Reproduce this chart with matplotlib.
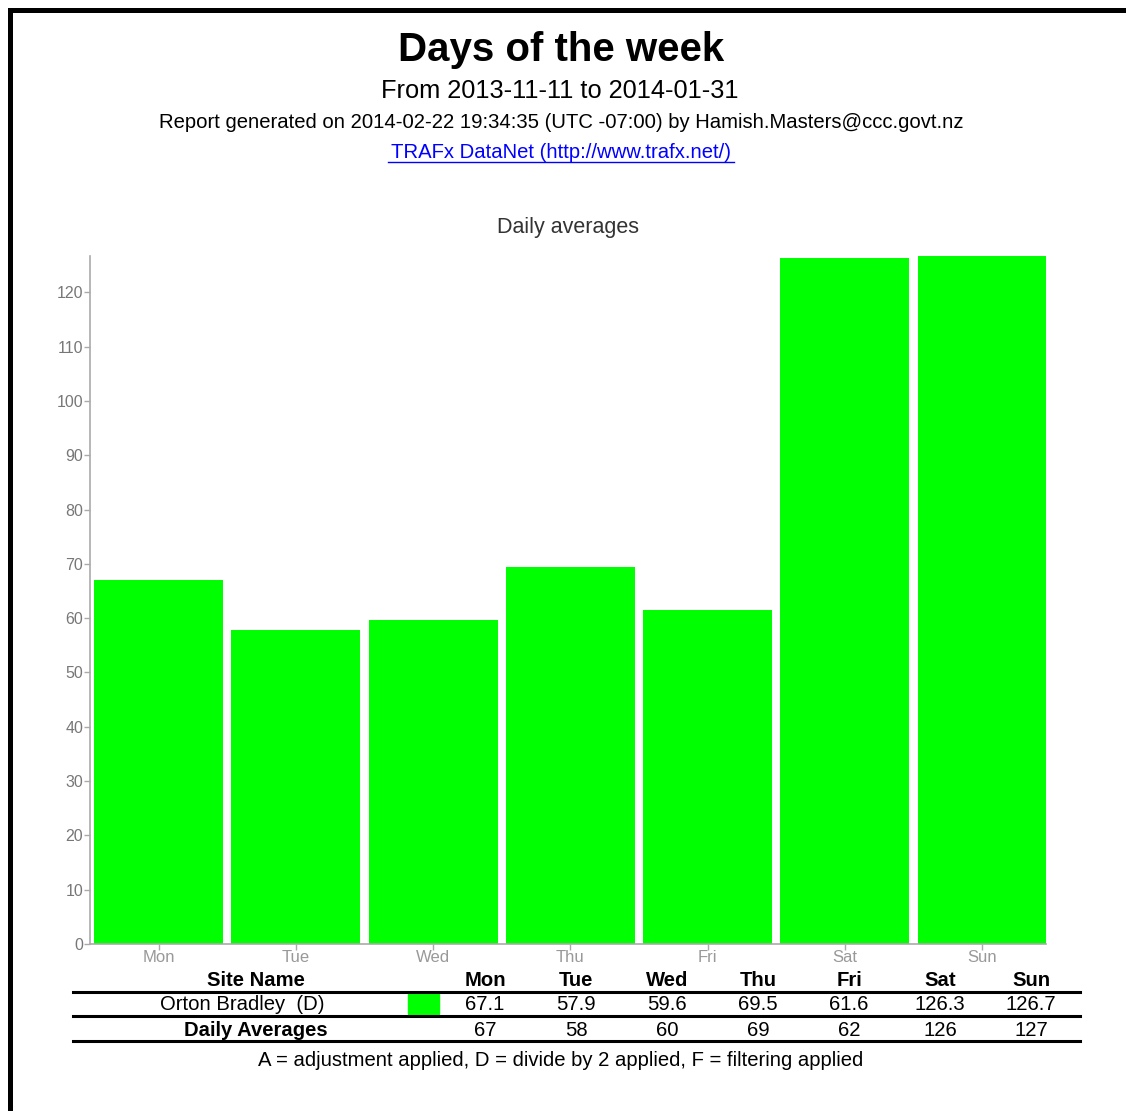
import matplotlib
matplotlib.use("Agg")
import matplotlib.pyplot as plt
from matplotlib.lines import Line2D
from matplotlib.patches import Rectangle

days = ["Mon", "Tue", "Wed", "Thu", "Fri", "Sat", "Sun"]
site_values = [67.1, 57.9, 59.6, 69.5, 61.6, 126.3, 126.7]
daily_avg_labels = ["67", "58", "60", "69", "62", "126", "127"]
site_name = "Orton Bradley  (D)"
yticks = [0, 10, 20, 30, 40, 50, 60, 70, 80, 90, 100, 110, 120]

W, H = 1126, 1111
plt.rcParams['font.family'] = ['Liberation Sans', 'DejaVu Sans']
fig = plt.figure(figsize=(W / 100, H / 100), dpi=100)

def fx(px):
    return px / W

def fy(py):
    return 1 - py / H

# border
fig.add_artist(Line2D([fx(9.5), fx(W)], [fy(9.5), fy(9.5)], color='black', lw=3.6))
fig.add_artist(Line2D([fx(9.5), fx(9.5)], [fy(9.5), fy(H)], color='black', lw=3.6))

# titles
fig.text(fx(561), fy(50), "Days of the week", ha='center', va='center', fontsize=29, fontweight='bold')
fig.text(fx(560), fy(91), "From 2013-11-11 to 2014-01-31", ha='center', va='center', fontsize=18.3)
fig.text(fx(561), fy(122), "Report generated on 2014-02-22 19:34:35 (UTC -07:00) by Hamish.Masters@ccc.govt.nz",
         ha='center', va='center', fontsize=14.6)
fig.text(fx(561), fy(153), "TRAFx DataNet (http://www.trafx.net/)", ha='center', va='center',
         fontsize=14.6, color='#0000ff')
fig.add_artist(Line2D([fx(388), fx(734)], [fy(162), fy(162)], color='#0000ff', lw=1))
fig.text(fx(568), fy(228), "Daily averages", ha='center', va='center', fontsize=15.5, color='#333333')

# axes
ax_left, ax_right, ax_top, ax_bottom = 90, 1046, 256, 944
ax = fig.add_axes([fx(ax_left), fy(ax_bottom), (ax_right - ax_left) / W, (ax_bottom - ax_top) / H])
x = list(range(len(days)))
ax.bar(x, site_values, width=0.94, color='#00ff00', edgecolor='none')
ax.set_xlim(-0.5, len(days) - 0.535)
ax.set_ylim(0, 126.7)
ax.set_yticks(yticks)
ax.set_xticks(x)
ax.set_xticklabels(days)
for s in ['top', 'right']:
    ax.spines[s].set_visible(False)
for s in ['left', 'bottom']:
    ax.spines[s].set_color('#aaaaaa')
    ax.spines[s].set_linewidth(1.2)
ax.tick_params(axis='y', colors='#aaaaaa', labelcolor='#777777', labelsize=11.5, length=4, width=1, pad=1)
ax.tick_params(axis='x', colors='#aaaaaa', labelcolor='#999999', labelsize=12, length=4, width=1, pad=0)

# table
col_x = [485, 576, 667, 758, 849, 940, 1031]
fs_t = 14.6
fig.text(fx(256), fy(980), "Site Name", ha='center', va='center', fontsize=fs_t, fontweight='bold')
for cx, d in zip(col_x, days):
    fig.text(fx(cx), fy(980), d, ha='center', va='center', fontsize=fs_t, fontweight='bold')
for yy in [992, 1016, 1041]:
    fig.add_artist(Line2D([fx(73), fx(1080)], [fy(yy), fy(yy)], color='black', lw=2.2))
fig.text(fx(242), fy(1004), site_name, ha='center', va='center', fontsize=fs_t)
fig.add_artist(Rectangle((fx(408), fy(1014)), (439 - 408) / W, (1014 - 993) / H, color='#00ff00',
                         transform=fig.transFigure))
for cx, v in zip(col_x, site_values):
    fig.text(fx(cx), fy(1004), f"{v:.1f}", ha='center', va='center', fontsize=fs_t)
fig.text(fx(256), fy(1030), "Daily Averages", ha='center', va='center', fontsize=fs_t, fontweight='bold')
for cx, v in zip(col_x, daily_avg_labels):
    fig.text(fx(cx), fy(1030), v, ha='center', va='center', fontsize=fs_t)
fig.text(fx(561), fy(1061), "A = adjustment applied, D = divide by 2 applied, F = filtering applied",
         ha='center', va='center', fontsize=14.6)

fig.savefig("out.png", dpi=100)
